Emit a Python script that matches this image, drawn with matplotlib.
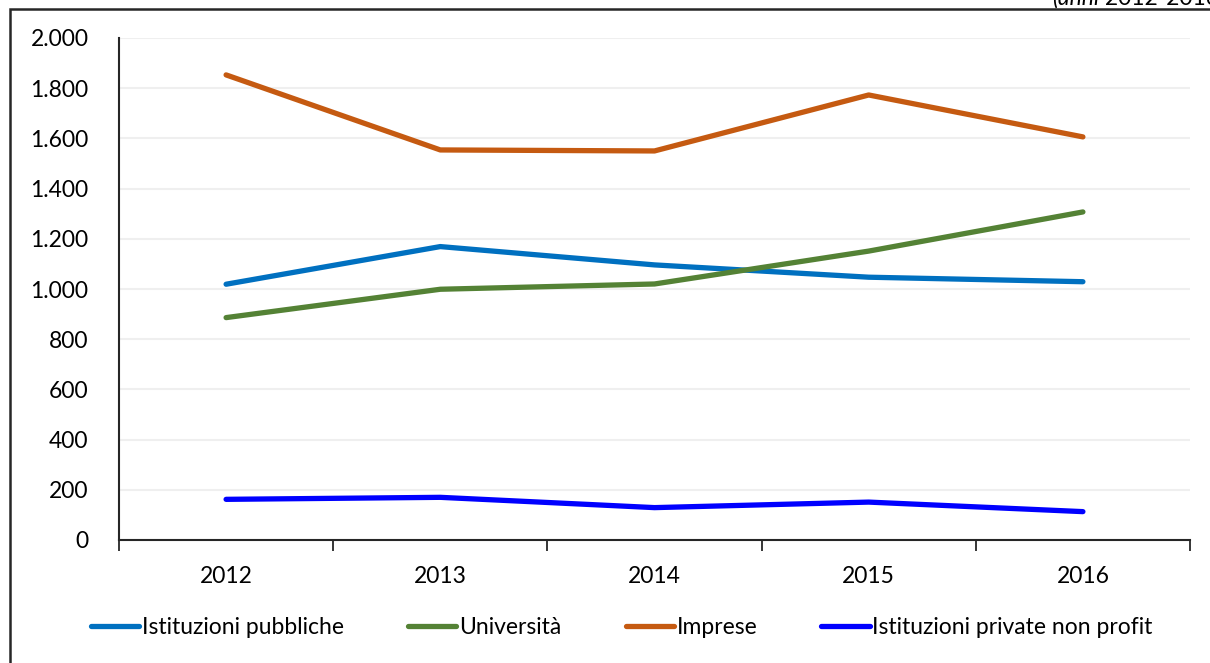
import numpy as np
import matplotlib
matplotlib.use('Agg')
import matplotlib.pyplot as plt
from matplotlib.patches import Rectangle
from matplotlib.ticker import FuncFormatter, FixedLocator

plt.rcParams['font.family'] = ['Lato', 'DejaVu Sans']
plt.rcParams['font.size'] = 16.5

years = ['2012', '2013', '2014', '2015', '2016']
pubbliche = [1019, 1169, 1096, 1047, 1029]
universita = [886, 999, 1020, 1151, 1307]
imprese = [1853, 1554, 1550, 1773, 1606]
non_profit = [162, 170, 129, 151, 113]

series = [
    ('Istituzioni pubbliche', pubbliche, '#0070C0'),
    ('Università', universita, '#548235'),
    ('Imprese', imprese, '#C55A11'),
    ('Istituzioni private non profit', non_profit, '#0000FF'),
]

fig = plt.figure(figsize=(12.10, 6.63), dpi=100)
ax = fig.add_axes([119 / 1210, 123 / 663, 1071 / 1210, 502 / 663])

x = np.arange(len(years))
for label, vals, col in series:
    ax.plot(x, vals, color=col, lw=3.8, solid_capstyle='round',
            solid_joinstyle='round', label=label)

ax.set_xlim(-0.5, len(years) - 0.5)
ax.set_ylim(0, 2000)
ax.set_yticks(np.arange(0, 2001, 200))
ax.yaxis.set_major_formatter(FuncFormatter(lambda v, p: f"{int(v):,}".replace(',', '.')))
ax.grid(axis='y', color='#efefef', lw=1.5)
ax.set_axisbelow(True)

ax.set_xticks(x)
ax.set_xticklabels(years)
ax.xaxis.set_minor_locator(FixedLocator(np.arange(-0.5, len(years), 1.0)))
ax.tick_params(axis='x', which='major', length=0, pad=19)
ax.tick_params(axis='x', which='minor', length=8, width=1.3, color='#262626', direction='out')
ax.tick_params(axis='y', length=0, pad=22)

for side in ['top', 'right']:
    ax.spines[side].set_visible(False)
for side in ['left', 'bottom']:
    ax.spines[side].set_color('#262626')
    ax.spines[side].set_linewidth(1.5)

leg = fig.legend(loc='center', bbox_to_anchor=(622 / 1210, 1 - 628 / 663), ncol=4,
                 frameon=False, handlelength=2.1, handletextpad=0.12,
                 columnspacing=2.8)
for h in leg.get_lines():
    h.set_linewidth(3.8)
    h.set_solid_capstyle('round')

# outer frame
fig.patches.append(Rectangle((10 / 1210, -0.05), 1.2, 1.05 - 9 / 663,
                             transform=fig.transFigure, fill=False,
                             edgecolor='#262626', lw=1.8))

# period note, top right
t2 = fig.text(1225 / 1210, 1 - 5 / 663, ' 2012-2016)', ha='right', va='baseline')
fig.canvas.draw()
bb = t2.get_window_extent()
fig.text(bb.x0 / fig.bbox.width, 1 - 5 / 663, '(anni', ha='right', va='baseline',
         style='italic')

fig.savefig('out.png', dpi=100)
